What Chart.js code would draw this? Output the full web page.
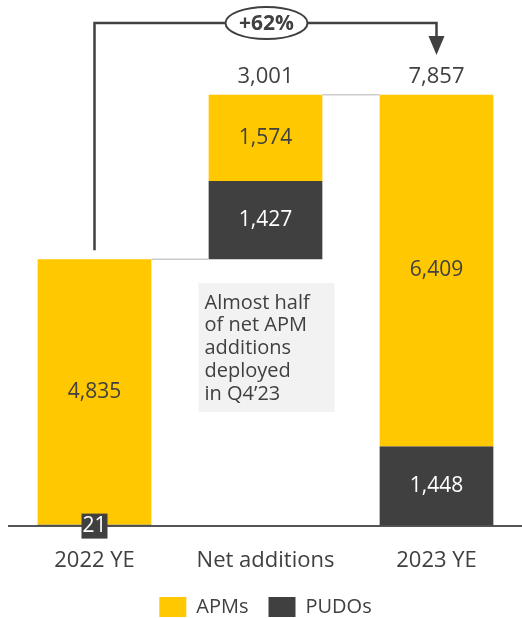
<!DOCTYPE html>
<html>
<head>
<meta charset="utf-8">
<script src="https://cdn.jsdelivr.net/npm/chart.js@4"></script>
<style>
  html, body { margin: 0; padding: 0; background: #fff; }
  #wrap { width: 522px; height: 618px; overflow: hidden; }
</style>
</head>
<body>
<div id="wrap"><canvas id="canvas" width="522" height="627"></canvas></div>
<script>
var categories = ['2022 YE', 'Net additions', '2023 YE'];
var apms = [4835, 1574, 6409];
var pudos = [21, 1427, 1448];
var totals = [null, 3001, 7857];
var growth = '+62%';
var note = ['Almost half', 'of net APM', 'additions', 'deployed', 'in Q4\u201923'];

var YELLOW = '#ffc800';
var DARK = '#404040';
var FONT = '"Open Sans", sans-serif';

// waterfall: the middle column floats on top of the 2022 total
var base = [0, apms[0] + pudos[0], 0];
var pudoRanges = categories.map(function (c, i) { return [base[i], base[i] + pudos[i]]; });
var apmRanges = categories.map(function (c, i) { return [base[i] + pudos[i], base[i] + pudos[i] + apms[i]]; });

function fmt(v) { return v.toLocaleString('en-US'); }

var overlay = {
    id: 'overlay',
    afterDatasetsDraw: function (chart) {
        var ctx = chart.ctx;
        var x = chart.scales.x;
        var apmBars = chart.getDatasetMeta(0).data;
        var pudoBars = chart.getDatasetMeta(1).data;
        ctx.save();

        // connectors between columns
        ctx.strokeStyle = '#cccccc';
        ctx.lineWidth = 1.5;
        for (var i = 0; i < 2; i++) {
            var topY = apmBars[i].y;
            ctx.beginPath();
            ctx.moveTo(apmBars[i].x + apmBars[i].width / 2, topY);
            ctx.lineTo(apmBars[i + 1].x - apmBars[i + 1].width / 2, topY);
            ctx.stroke();
        }

        // values inside bars
        ctx.textAlign = 'center';
        ctx.textBaseline = 'middle';
        ctx.font = '21px ' + FONT;
        apmBars.forEach(function (b, i) {
            ctx.fillStyle = DARK;
            ctx.fillText(fmt(apms[i]), b.x, (b.y + b.base) / 2);
        });
        pudoBars.forEach(function (b, i) {
            var cy = (b.y + b.base) / 2;
            if (Math.abs(b.base - b.y) < 30) {
                // too thin to hold its label: boxed label on the axis
                ctx.fillStyle = DARK;
                ctx.fillRect(b.x - 13, b.base - 12, 26, 25);
                cy = b.base;
            }
            ctx.fillStyle = '#ffffff';
            ctx.fillText(fmt(pudos[i]), b.x, cy);
        });

        // totals above bars
        ctx.font = '22px ' + FONT;
        ctx.fillStyle = DARK;
        totals.forEach(function (t, i) {
            if (t === null) return;
            ctx.fillText(fmt(t), apmBars[i].x, apmBars[i].y - 18);
        });

        // growth bracket
        var x0 = x.getPixelForValue(0), x2 = x.getPixelForValue(2);
        var lineY = 23;
        ctx.strokeStyle = DARK;
        ctx.lineWidth = 2.5;
        ctx.beginPath();
        ctx.moveTo(x0, apmBars[0].y - 9);
        ctx.lineTo(x0, lineY);
        ctx.lineTo(x2, lineY);
        ctx.lineTo(x2, 37);
        ctx.stroke();
        ctx.fillStyle = DARK;
        ctx.beginPath();
        ctx.moveTo(x2 - 8, 36);
        ctx.lineTo(x2 + 8, 36);
        ctx.lineTo(x2, 55);
        ctx.closePath();
        ctx.fill();

        var ex = x.getPixelForValue(1) + 1;
        ctx.beginPath();
        ctx.ellipse(ex, lineY, 41, 16, 0, 0, Math.PI * 2);
        ctx.fillStyle = '#ffffff';
        ctx.fill();
        ctx.lineWidth = 2;
        ctx.stroke();
        ctx.fillStyle = DARK;
        ctx.font = 'bold 21px ' + FONT;
        ctx.fillText(growth, ex, lineY + 1);

        // note box
        var nx = x.getPixelForValue(1) - 67;
        ctx.fillStyle = '#f2f2f2';
        ctx.fillRect(nx, 283, 136, 129);
        ctx.fillStyle = DARK;
        ctx.font = '20px ' + FONT;
        ctx.textAlign = 'left';
        note.forEach(function (line, i) {
            ctx.fillText(line, nx + 6, 303 + i * 22.7);
        });
        ctx.restore();
    }
};

var context = document.getElementById('canvas').getContext('2d');
var chart = new Chart(context, {
    type: 'bar',
    data: {
        labels: categories,
        datasets: [
            { label: 'APMs', data: apmRanges, backgroundColor: YELLOW, borderSkipped: false },
            { label: 'PUDOs', data: pudoRanges, backgroundColor: DARK, borderSkipped: false }
        ]
    },
    options: {
        responsive: false,
        animation: false,
        events: [],
        categoryPercentage: 1,
        barPercentage: 0.665,
        layout: { padding: { left: 9, right: 0, top: 10, bottom: 0 } },
        plugins: {
            tooltip: { enabled: false },
            legend: {
                position: 'bottom',
                labels: {
                    boxWidth: 27,
                    boxHeight: 20,
                    padding: 20,
                    color: DARK,
                    font: { family: FONT, size: 20 }
                }
            }
        },
        scales: {
            x: {
                stacked: true,
                grid: { display: false, drawTicks: false },
                border: { color: '#555555', width: 2 },
                ticks: { color: DARK, padding: 22, font: { family: FONT, size: 22 } },
                afterFit: function (scale) { scale.height -= 19; }
            },
            y: {
                display: false,
                min: 0,
                max: 9400
            }
        }
    },
    plugins: [overlay]
});
</script>
</body>
</html>
